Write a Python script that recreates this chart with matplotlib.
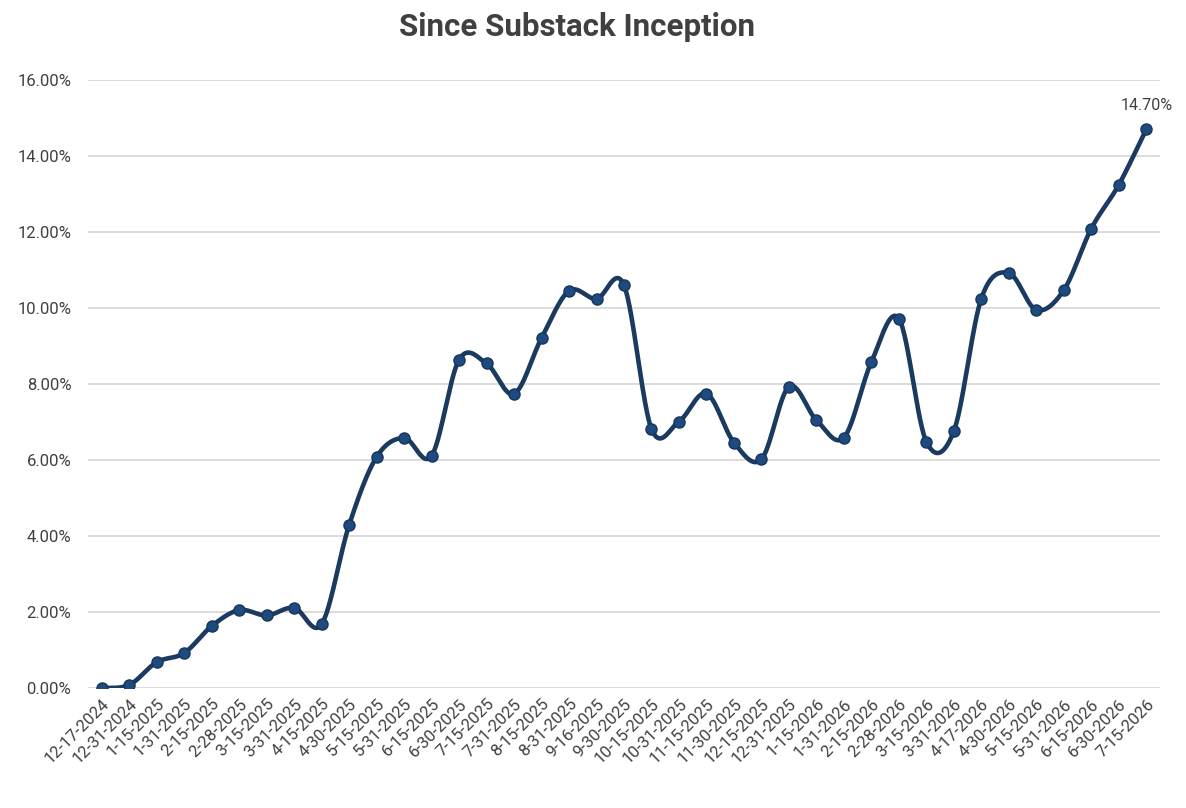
import numpy as np
import matplotlib
matplotlib.use("Agg")
import matplotlib.pyplot as plt
from matplotlib.ticker import FuncFormatter, MultipleLocator

dates = ["12-17-2024", "12-31-2024", "1-15-2025", "1-31-2025", "2-15-2025", "2-28-2025",
         "3-15-2025", "3-31-2025", "4-15-2025", "4-30-2025", "5-15-2025", "5-31-2025",
         "6-15-2025", "6-30-2025", "7-15-2025", "7-31-2025", "8-15-2025", "8-31-2025",
         "9-16-2025", "9-30-2025", "10-15-2025", "10-31-2025", "11-15-2025", "11-30-2025",
         "12-15-2025", "12-31-2025", "1-15-2026", "1-31-2026", "2-15-2026", "2-28-2026",
         "3-15-2026", "3-31-2026", "4-17-2026", "4-30-2026", "5-15-2026", "5-31-2026",
         "6-15-2026", "6-30-2026", "7-15-2026"]
returns = [0.00, 0.08, 0.68, 0.92, 1.63, 2.05, 1.91, 2.11, 1.68, 4.29, 6.08, 6.58,
           6.11, 8.64, 8.54, 7.74, 9.21, 10.45, 10.24, 10.60, 6.82, 7.01, 7.75, 6.46,
           6.02, 7.93, 7.05, 6.59, 8.58, 9.72, 6.48, 6.76, 10.25, 10.92, 9.95, 10.47,
           12.09, 13.24, 14.70]
title = "Since Substack Inception"

LINE = "#1B3A5F"
MFACE = "#1F4A7F"
MEDGE = "#16365C"
TXT = "#404040"
FONT = ["Roboto", "DejaVu Sans"]

fig = plt.figure(figsize=(11.86, 8.08), dpi=100)
ax = fig.add_axes([88 / 1186, 1 - 688 / 808, (1160 - 88) / 1186, (688 - 80) / 808])

x = np.arange(len(dates), dtype=float)
y = np.array(returns, dtype=float)

# Smooth curve (Catmull-Rom style Bezier like Excel's smoothed line)
def smooth(xs, ys, n=30):
    px, py = [], []
    N = len(xs)
    for i in range(N - 1):
        x0, y0 = (xs[i - 1], ys[i - 1]) if i > 0 else (xs[i], ys[i])
        x1, y1 = xs[i], ys[i]
        x2, y2 = xs[i + 1], ys[i + 1]
        x3, y3 = (xs[i + 2], ys[i + 2]) if i + 2 < N else (xs[i + 1], ys[i + 1])
        c1x, c1y = x1 + (x2 - x0) / 6, y1 + (y2 - y0) / 6
        c2x, c2y = x2 - (x3 - x1) / 6, y2 - (y3 - y1) / 6
        t = np.linspace(0, 1, n, endpoint=(i == N - 2))
        b0, b1, b2, b3 = (1 - t) ** 3, 3 * (1 - t) ** 2 * t, 3 * (1 - t) * t ** 2, t ** 3
        px.extend(b0 * x1 + b1 * c1x + b2 * c2x + b3 * x2)
        py.extend(b0 * y1 + b1 * c1y + b2 * c2y + b3 * y2)
    return np.array(px), np.array(py)

sx, sy = smooth(x, y)
ax.plot(sx, sy, color=LINE, lw=3.3, solid_capstyle="round", zorder=3)
ax.plot(x, y, ls="none", marker="o", ms=8, mfc=MFACE, mec=MEDGE, mew=1.0, zorder=4)

ax.annotate(f"{returns[-1]:.2f}%", (x[-1], y[-1]), xytext=(0, 12), textcoords="offset points",
            ha="center", va="bottom", fontsize=11.5, color=TXT, family=FONT)

ax.set_xlim(-0.5, len(dates) - 0.5)
ax.set_ylim(0, 16)
ax.yaxis.set_major_locator(MultipleLocator(2))
ax.yaxis.set_major_formatter(FuncFormatter(lambda v, p: f"{v:.2f}%"))
ax.grid(axis="y", color="#D9D9D9", lw=1.3)
ax.set_axisbelow(True)
for s in ax.spines.values():
    s.set_visible(False)
ax.set_xticks(x)
ax.set_xticklabels(dates, rotation=45, ha="right", rotation_mode="anchor",
                   fontsize=12, color=TXT, family=FONT)
ax.tick_params(axis="x", length=0, pad=6)
ax.tick_params(axis="y", length=0, pad=12, labelsize=12, labelcolor=TXT)
for lbl in ax.get_yticklabels():
    lbl.set_family(FONT)

fig.text(577 / 1186, 1 - 27 / 808, title, ha="center", va="center", fontsize=22.5,
         fontweight="bold", color=TXT, family=FONT)

fig.savefig("out.png", dpi=100, facecolor="white")
